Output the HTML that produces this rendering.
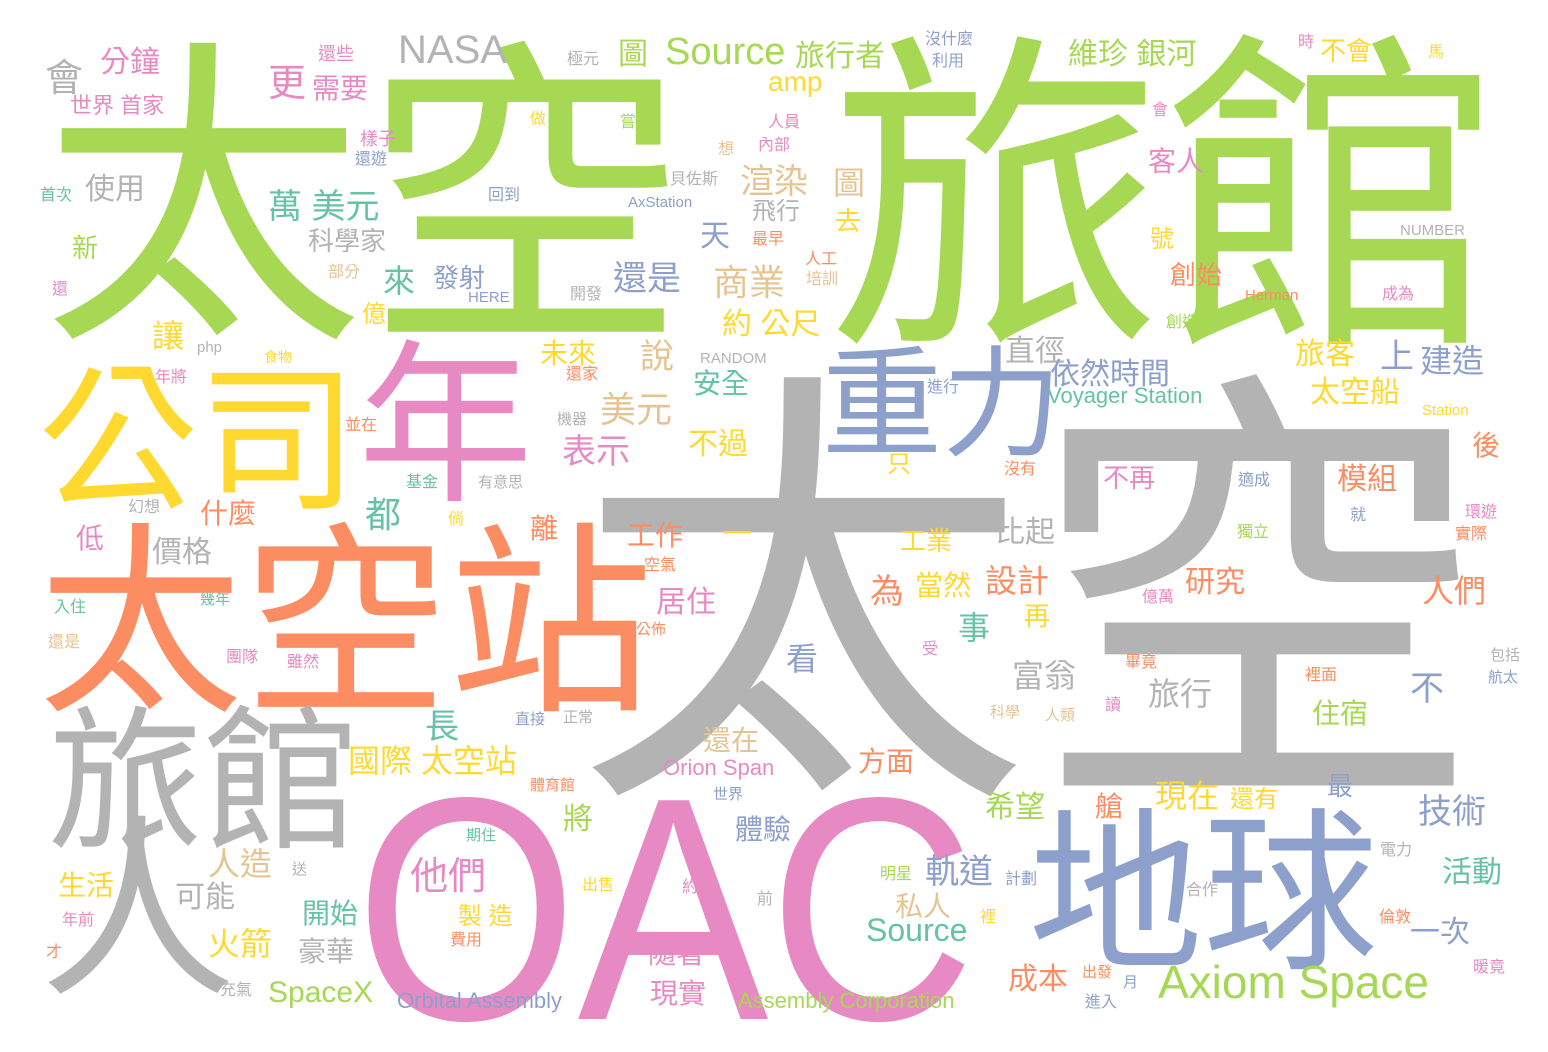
<!DOCTYPE html>
<html><head><meta charset="utf-8">
<style>
html,body{margin:0;padding:0;background:#fff}
#cloud{position:relative;width:1548px;height:1052px;overflow:hidden;background:#fff}
#cloud div{position:absolute;white-space:nowrap;line-height:1;font-family:"Liberation Sans","Noto Sans CJK TC",sans-serif}
</style></head>
<body>
<div id="cloud"></div>
<script>
const palette = {G:'#a6d854',Y:'#b3b3b3',O:'#fc8d62',P:'#e78ac3',B:'#8da0cb',W:'#ffd92f',T:'#e5c494',C:'#66c2a5'};
const words = [
"太空","旅館","太空","公司","年","重力","太空站","旅館","人","地球","Axiom Space",
"會","分鐘","世界 首家","還些","更","需要","NASA","極元","圖","Source","旅行者","維珍 銀河","沒什麼","利用","時","不會","馬","amp",
"做","嘗試","人員","內部","想","樣子","還遊","首次","使用","回到","貝佐斯","AxStation","渲染","圖","客人","會","萬 美元","飛行","去",
"新","科學家","天","最早","NUMBER","號","還","部分","來","發射","HERE","開發","還是","商業","人工","培訓","創始","Herman","成為",
"億","讓","php","年將","食物","約 公尺","創造","未來","說","RANDOM","直徑","旅客","上","建造","依然時間","還家","安全","進行",
"Voyager Station","太空船","Station","美元","機器","並在","表示","不過","只","沒有","不再","適成","後","基金","有意思","模組",
"幻想","什麼","都","倘","離","就","環遊","實際","低","價格","工作","一","工業","比起","獨立","空氣","為","當然","設計","研究","億萬",
"人們","居住","幾年","入住","事","再","公佈","還是","團隊","雖然","看","受","畢竟","包括","航太","富翁","旅行","不","裡面","科學","人類",
"讀","住宿","長","直接","正常","還在","方面","國際 太空站","Orion Span","體育館","世界","最","現在","還有","希望","艙","技術","將","體驗",
"電力","期住","人造","他們","軌道","明星","計劃","活動","送","生活","可能","約","出售","前","合作","私人","開始","製 造","年前","Source",
"裡","倫敦","一次","火箭","豪華","費用","隨著","才","成本","出發","月","暖竟","充氣","SpaceX","Orbital Assembly","現實","Assembly Corporation","進入"];
const sizes = [
322,335,455,160,175,120,205,155,195,175,46,
38,30,22,18,38,28,40,16,30,38,30,30,16,16,16,26,16,28,
16,16,16,16,16,18,16,16,30,16,16,15,34,32,28,16,34,24,26,
26,26,30,16,15,24,16,16,32,26,15,16,34,36,16,16,26,15,16,
24,32,15,16,14,30,16,28,34,15,30,30,34,32,30,16,28,16,
22,30,15,36,15,16,34,30,24,16,26,16,28,16,15,30,
16,28,36,16,28,16,16,16,28,30,28,30,26,30,16,16,34,28,32,30,16,
32,30,15,16,32,26,15,16,16,16,32,16,16,15,15,32,32,34,16,15,15,
16,28,34,15,15,28,28,32,22,15,15,26,32,24,30,28,34,30,28,
16,15,32,38,34,16,16,30,15,28,30,16,16,16,16,28,28,24,16,32,
16,16,30,32,28,16,28,16,30,15,15,16,16,30,22,28,22,16];
const xs = [
42,828,575,38,358,822,38,48,40,1028,1158,
45,100,70,318,268,312,398,567,618,665,795,1068,925,932,1298,1320,1428,768,
530,620,768,758,718,360,355,40,85,488,670,628,740,833,1148,1152,268,752,835,
72,308,700,752,1400,1150,52,328,383,433,468,570,613,713,805,806,1170,1245,1382,
362,152,197,155,264,722,1166,540,640,700,1005,1295,1380,1420,1050,566,693,927,
1047,1310,1422,600,557,345,562,688,887,1004,1103,1238,1472,406,478,1337,
128,200,365,448,530,1350,1465,1455,76,152,627,722,900,995,1237,644,870,915,985,1185,1142,
1422,656,200,54,958,1024,636,48,226,287,786,922,1125,1490,1488,1012,1148,1410,1305,990,1045,
1105,1312,425,515,563,703,858,348,663,530,713,1327,1155,1230,985,1095,1418,563,735,
1380,466,208,410,925,880,1005,1442,292,58,175,682,582,757,1186,895,302,458,62,866,
980,1379,1410,208,298,450,648,46,1008,1082,1123,1473,220,268,397,650,738,1085];
const ys = [
42,35,375,362,340,345,522,705,815,808,965,
60,48,95,45,65,75,35,52,40,38,42,40,32,54,35,38,45,72,
112,115,115,138,142,130,152,188,175,188,172,197,165,167,148,103,190,200,208,
235,228,222,232,225,228,282,265,265,265,292,287,262,265,252,272,262,290,287,
303,320,342,370,350,310,315,340,340,353,337,340,340,345,360,367,370,380,
388,378,405,392,412,418,435,430,453,462,465,473,432,475,475,465,
500,500,497,512,515,508,505,527,525,538,522,520,528,518,525,558,575,572,565,568,590,
575,588,592,600,612,603,622,635,650,655,643,642,655,648,670,660,678,672,668,705,708,
698,700,710,712,710,727,748,745,760,778,787,773,780,788,793,793,795,805,816,
843,828,848,858,855,867,872,858,862,872,883,880,878,892,883,893,900,905,913,918,
910,910,918,928,938,933,940,945,965,965,975,960,983,982,993,980,993,995];
const colors = [
"G","G","Y","W","P","B","O","Y","Y","B","G",
"Y","P","P","P","P","P","Y","Y","G","G","G","G","B","B","P","W","W","W",
"W","G","P","P","T","P","B","C","Y","B","Y","B","T","T","P","P","C","Y","W",
"G","Y","B","O","Y","W","P","T","C","B","B","Y","B","T","O","T","O","O","P",
"W","W","Y","P","W","W","G","W","T","Y","Y","W","B","B","B","O","C","B",
"C","W","W","T","Y","O","P","W","W","O","P","B","O","C","Y","O",
"Y","O","C","W","O","B","P","O","P","Y","O","W","W","Y","G","O","O","W","O","O","P",
"O","P","C","C","C","W","O","T","P","P","B","P","O","Y","B","Y","Y","B","O","T","T",
"P","G","C","B","Y","T","O","W","P","O","B","B","W","W","G","O","B","G","B",
"Y","C","T","P","B","G","B","C","Y","W","Y","P","W","Y","Y","T","C","W","P","C",
"W","O","B","W","Y","O","P","O","O","O","B","P","Y","G","B","P","G","B"];
const cloud = document.getElementById('cloud');
const isLatin = s => /^[A-Za-z0-9 ]+$/.test(s);

const oac = document.createElement('div');


oac.textContent = 'OAC';
oac.style.fontSize = '318px';
oac.style.color = '#e78ac3';
oac.style.left = '355px';
oac.style.top = (792 - 0.13 * 318) + 'px';
oac.style.transformOrigin = '0 0';
oac.style.transform = 'scaleX(0.9)';
cloud.appendChild(oac);

for (let i = 0; i < words.length; i++) {
  const el = document.createElement('div');
  
  
  const s = sizes[i];
  el.textContent = words[i];
  el.style.fontSize = s + 'px';
  el.style.color = palette[colors[i]] || '#b3b3b3';
  el.style.left = xs[i] + 'px';
  el.style.top = (ys[i] - (isLatin(words[i]) ? 0.13 * s : 0)) + 'px';
  cloud.appendChild(el);
}
</script>
</body></html>
